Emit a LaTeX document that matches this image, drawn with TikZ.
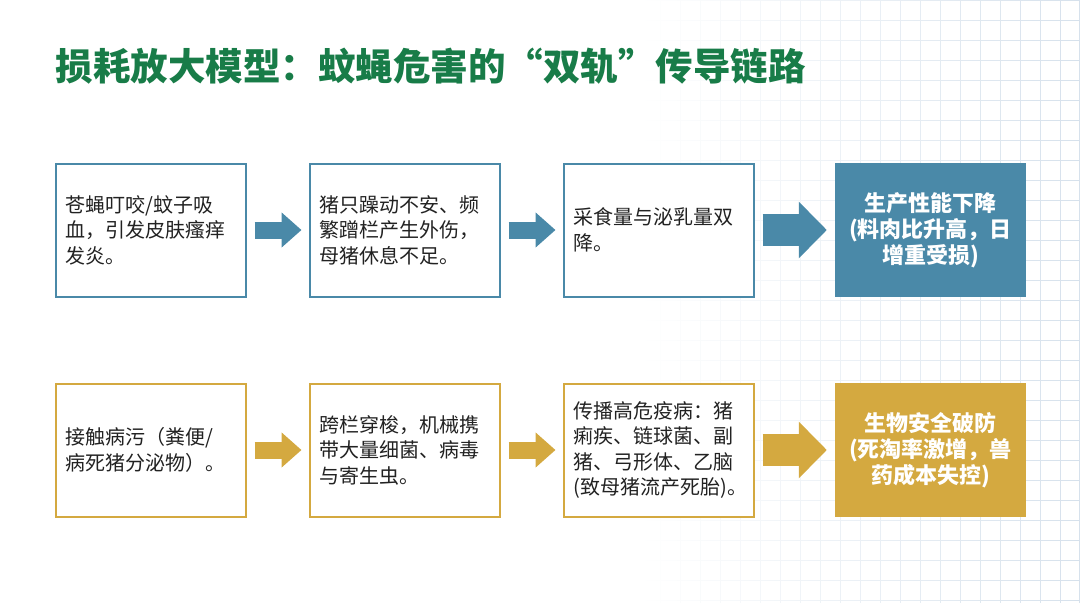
\documentclass[tikz,border=0pt]{standalone}
\usepackage{fontspec}
\newfontfamily\cjk{Noto Sans CJK SC}
\usetikzlibrary{arrows.meta,fadings}

\definecolor{trackblue}{RGB}{74,137,168}
\definecolor{trackgold}{RGB}{212,169,64}
\definecolor{titlegreen}{RGB}{24,124,72}
\definecolor{gridline}{RGB}{214,225,236}
\definecolor{bodytext}{RGB}{34,34,34}

\begin{document}
\begin{tikzpicture}[x=1pt,y=-1pt,
    stepbox/.style={draw,line width=2pt,fill=white,minimum width=190pt,minimum height=133pt,
      text width=170pt,inner xsep=10pt,align=left,text=bodytext,
      font=\cjk\fontsize{20}{25.5}\selectfont},
    endbox/.style={minimum width=191pt,minimum height=134pt,text width=180pt,align=center,
      text=white,font=\cjk\bfseries\fontsize{22}{26}\selectfont},
    small/.style={line width=17pt,-{Triangle[length=20pt,width=34pt]},shorten <=8pt,shorten >=7pt},
    big/.style={line width=32pt,-{Triangle[length=28pt,width=55pt]},shorten <=8pt,shorten >=8pt}]
    \useasboundingbox (0,0) rectangle (1080,603);

    % Background grid
    \draw[gridline,line width=0.6pt,path fading=west] (640,0) grid[step=20pt] (1080,603);

    % Title
    \node (title) at (52,66) [anchor=west,text=titlegreen,font=\cjk\bfseries\fontsize{37.5}{44}\selectfont]
      {损耗放大模型：蚊蝇危害的“双轨”传导链路};

    % Nodes, first track
    \node (b1) at (150.5,230) [stepbox,draw=trackblue] {苍蝇叮咬/蚊子吸\\血，引发皮肤瘙痒\\发炎。};
    \node (b2) at (404.5,230) [stepbox,draw=trackblue] {猪只躁动不安、频\\繁蹭栏产生外伤，\\母猪休息不足。};
    \node (b3) at (658.5,230) [stepbox,draw=trackblue] {采食量与泌乳量双\\降。};
    \node (b4) at (930.5,230) [endbox,fill=trackblue] {生产性能下降\\(料肉比升高，日\\增重受损)};

    % Nodes, second track
    \node (g1) at (150.5,450) [stepbox,draw=trackgold] {接触病污（粪便/\\病死猪分泌物）。};
    \node (g2) at (404.5,450) [stepbox,draw=trackgold] {跨栏穿梭，机械携\\带大量细菌、病毒\\与寄生虫。};
    \node (g3) at (658.5,450) [stepbox,draw=trackgold] {传播高危疫病：猪\\痢疾、链球菌、副\\猪、弓形体、乙脑\\(致母猪流产死胎)。};
    \node (g4) at (930.5,450) [endbox,fill=trackgold] {生物安全破防\\(死淘率激增，兽\\药成本失控)};

    % Arrows
    \path[trackblue] (b1) edge[small] (b2);
    \path[trackblue] (b2) edge[small] (b3);
    \path[trackblue] (b3) edge[big] (b4);
    \path[trackgold] (g1) edge[small] (g2);
    \path[trackgold] (g2) edge[small] (g3);
    \path[trackgold] (g3) edge[big] (g4);
\end{tikzpicture}
\end{document}
